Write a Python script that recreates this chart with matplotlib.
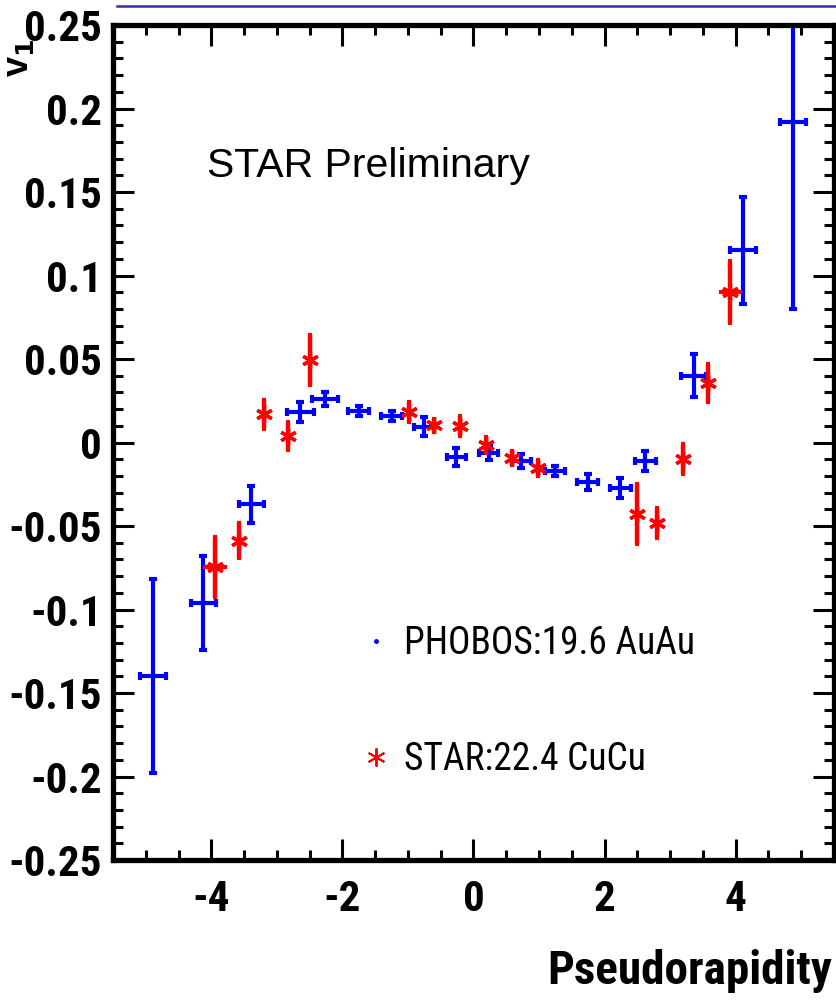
import matplotlib
matplotlib.use("Agg")
import matplotlib.pyplot as plt
from matplotlib.lines import Line2D
from matplotlib.ticker import MultipleLocator, FuncFormatter

plt.rcParams['axes.unicode_minus'] = False

# PHOBOS 19.6 GeV AuAu
phobos_eta = [-4.89, -4.12, -3.39, -2.64, -2.27, -1.75, -1.25, -0.76, -0.26,
              0.23, 0.73, 1.24, 1.74, 2.24, 2.62, 3.36, 4.11, 4.87]
phobos_v1 = [-0.140, -0.096, -0.037, 0.018, 0.026, 0.019, 0.016, 0.0095, -0.0085,
             -0.006, -0.011, -0.017, -0.0237, -0.027, -0.011, 0.040, 0.115, 0.192]
phobos_err = [0.058, 0.028, 0.011, 0.006, 0.004, 0.003, 0.003, 0.0057, 0.0053,
              0.0045, 0.004, 0.003, 0.005, 0.006, 0.006, 0.013, 0.032, 0.112]
phobos_xerr = [0.2, 0.19, 0.19, 0.2, 0.2, 0.16, 0.16, 0.15, 0.15,
               0.15, 0.15, 0.15, 0.16, 0.16, 0.16, 0.19, 0.2, 0.2]

# STAR 22.4 GeV CuCu
star_eta = [-3.94, -3.58, -3.20, -2.83, -2.50, -0.99, -0.61, -0.21, 0.19,
            0.59, 0.99, 2.49, 2.80, 3.19, 3.58, 3.92]
star_v1 = [-0.0746, -0.0588, 0.0169, 0.0041, 0.0494, 0.0184, 0.0103, 0.0099, -0.0015,
           -0.0093, -0.0153, -0.0426, -0.0482, -0.0099, 0.0356, 0.0901]
star_err = [0.018, 0.0105, 0.0085, 0.0083, 0.015, 0.006, 0.004, 0.006, 0.005,
            0.004, 0.005, 0.018, 0.0088, 0.009, 0.0115, 0.0187]
star_xerr = [0.15, 0, 0, 0, 0, 0, 0, 0, 0,
             0, 0, 0, 0, 0, 0, 0.15]

narrow = ['Roboto Condensed', 'Archivo Narrow', 'Liberation Sans', 'DejaVu Sans']

fig = plt.figure(figsize=(8.37, 10.02), dpi=100)
ax = fig.add_axes([0.135, 0.1417, 0.8614, 0.8333])

ax.errorbar(phobos_eta, phobos_v1, xerr=phobos_xerr, yerr=phobos_err, fmt='none',
            ecolor='blue', elinewidth=3, capsize=3, capthick=3)
ax.errorbar(star_eta, star_v1, xerr=star_xerr, yerr=star_err, fmt='none',
            ecolor='red', elinewidth=3.2, capsize=1.5, capthick=3)
ax.plot(star_eta, star_v1, linestyle='none', marker=(6, 2, 0), markersize=12,
        markeredgewidth=2.4, color='red')

ax.set_xlim(-5.5, 5.5)
ax.set_ylim(-0.25, 0.25)
ax.xaxis.set_major_locator(MultipleLocator(2))
ax.xaxis.set_minor_locator(MultipleLocator(0.5))
ax.yaxis.set_major_locator(MultipleLocator(0.05))
ax.yaxis.set_minor_locator(MultipleLocator(0.01))
fmt = FuncFormatter(lambda v, pos: '%g' % round(v, 4))
ax.xaxis.set_major_formatter(fmt)
ax.yaxis.set_major_formatter(fmt)

for s in ax.spines.values():
    s.set_linewidth(3.8)
ax.tick_params(which='both', direction='in', top=True, right=True, width=2.2)
ax.tick_params(which='major', length=15)
ax.tick_params(which='minor', length=7)
ax.tick_params(axis='y', pad=8, labelsize=31)
ax.tick_params(axis='x', pad=14, labelsize=31)
for lab in ax.get_xticklabels() + ax.get_yticklabels():
    lab.set_family(narrow)
    lab.set_fontweight('bold')

ax.text(0.131, 0.831, 'STAR Preliminary', transform=ax.transAxes,
        fontsize=29.5, family=['Liberation Sans', 'DejaVu Sans'], va='center')

handles = [Line2D([], [], linestyle='none', marker='o', markersize=2.5, color='blue'),
           Line2D([], [], linestyle='none', marker=(6, 2, 0), markersize=13,
                  markeredgewidth=1.4, color='red')]
ax.legend(handles, ['PHOBOS:19.6 AuAu', 'STAR:22.4 CuCu'], loc='upper left',
          bbox_to_anchor=(0.302, 0.322), frameon=False, handlelength=0.6,
          handletextpad=0.45, labelspacing=2.1, prop={'family': narrow, 'size': 27})

fig.text(0.994, 0.031, 'Pseudorapidity', ha='right', va='center',
         fontsize=34, fontweight='bold', family=narrow)
fig.text(18 / 837, 1 - 58 / 1002, r'v$_\mathbf{1}$', rotation=90, ha='center', va='center',
         fontsize=26, fontweight='bold', family=['Liberation Sans', 'DejaVu Sans'])

# hyperlink underline along the top edge
fig.add_artist(Line2D([117 / 837, 1.0], [1 - 6 / 1002, 1 - 6 / 1002],
                      transform=fig.transFigure, color='#333399', linewidth=1.8))

fig.savefig('out.png', dpi=100)
